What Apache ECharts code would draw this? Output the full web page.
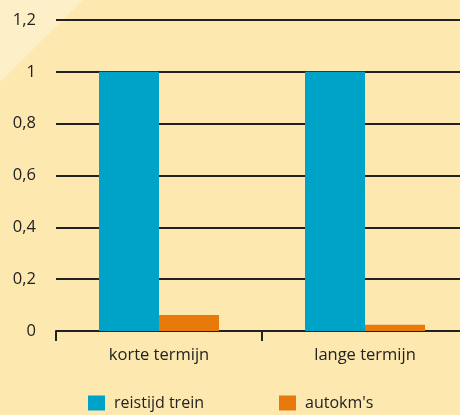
<!DOCTYPE html>
<html><head><meta charset="utf-8">
<script src="https://cdn.jsdelivr.net/npm/echarts@6/dist/echarts.min.js"></script>
<style>html,body{margin:0;padding:0;background:#fde8b0;overflow:hidden;}#c{width:468px;height:415px;}</style>
</head><body><div id="c"></div>
<script>
const categories = ['korte termijn', 'lange termijn'];
const seriesNames = ['reistijd trein', "autokm's"];
const reistijdTrein = [1, 1];
const autokms = [0.062, 0.024];
const yTicks = [0, 0.2, 0.4, 0.6, 0.8, 1, 1.2];

const chart = echarts.init(document.getElementById('c'), null, {renderer: 'canvas'});
const font = '"Open Sans", "Noto Sans", sans-serif';
chart.setOption({
  backgroundColor: '#fde8b0',
  animation: false,
  graphic: [{
    type: 'polygon', z: -10, silent: true,
    shape: {points: [[0,0],[83,0],[0,82]]},
    style: {fill: '#fdf0c9'}
  }],
  grid: {left: 56, top: 20, right: 0, height: 311, containLabel: false},
  legend: {
    bottom: -1, left: 83, itemGap: 75,
    itemWidth: 17, itemHeight: 15,
    icon: 'rect',
    textStyle: {fontFamily: font, fontSize: 16, color: '#222', padding: [0,0,0,4]},
    data: seriesNames
  },
  xAxis: {
    type: 'category', data: categories,
    axisLine: {show: true, lineStyle: {color: '#222', width: 2}},
    axisTick: {show: true, length: 10, lineStyle: {color: '#222', width: 2}},
    axisLabel: {fontFamily: font, fontSize: 16.5, color: '#222', margin: 16}
  },
  yAxis: {
    type: 'value', min: 0, max: 1.2, interval: 0.2,
    axisLine: {show: false}, axisTick: {show: false},
    splitLine: {show: true, lineStyle: {color: '#222', width: 2}},
    axisLabel: {
      fontFamily: font, fontSize: 16.5, color: '#222', margin: 20,
      formatter: v => {
        const t = yTicks.find(x => Math.abs(x - v) < 1e-9);
        return String(Math.round((t ?? v) * 10) / 10).replace('.', ',');
      }
    }
  },
  series: [
    {name: seriesNames[0], type: 'bar', data: reistijdTrein, barWidth: 60, barGap: '0%', itemStyle: {color: '#00a3c8'}},
    {name: seriesNames[1], type: 'bar', data: autokms, barWidth: 60, barGap: '0%', itemStyle: {color: '#e8790b'}}
  ]
});
</script></body></html>
